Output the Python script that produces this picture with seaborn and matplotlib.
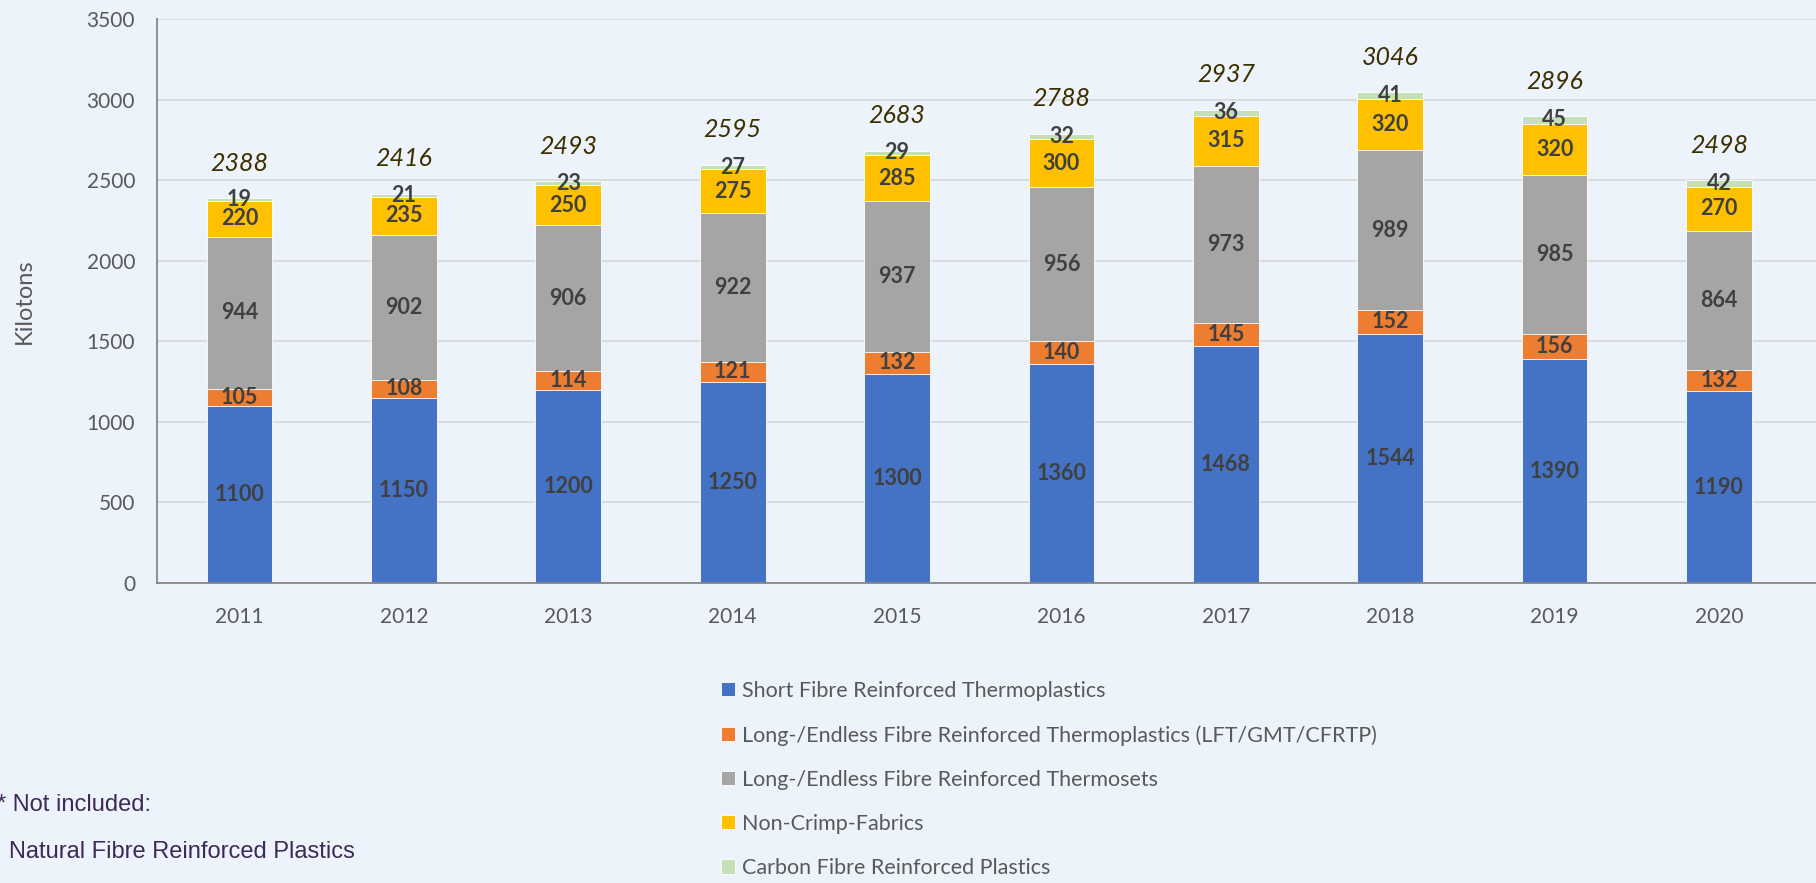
import numpy as np
import pandas as pd
import matplotlib
matplotlib.use("Agg")
import matplotlib.pyplot as plt
import seaborn as sns

years = ['2011', '2012', '2013', '2014', '2015', '2016', '2017', '2018', '2019', '2020']
short_fibre = [1100, 1150, 1200, 1250, 1300, 1360, 1468, 1544, 1390, 1190]
long_thermoplastics = [105, 108, 114, 121, 132, 140, 145, 152, 156, 132]
long_thermosets = [944, 902, 906, 922, 937, 956, 973, 989, 985, 864]
non_crimp = [220, 235, 250, 275, 285, 300, 315, 320, 320, 270]
carbon_fibre = [19, 21, 23, 27, 29, 32, 36, 41, 45, 42]
totals = [2388, 2416, 2493, 2595, 2683, 2788, 2937, 3046, 2896, 2498]

series_names = ['Short Fibre Reinforced Thermoplastics',
                'Long-/Endless Fibre Reinforced Thermoplastics (LFT/GMT/CFRTP)',
                'Long-/Endless Fibre Reinforced Thermosets',
                'Non-Crimp-Fabrics',
                'Carbon Fibre Reinforced Plastics']
colors = ['#4472C4', '#ED7D31', '#A5A5A5', '#FFC000', '#C5E0B4']

df = pd.DataFrame({'year': years,
                   series_names[0]: short_fibre,
                   series_names[1]: long_thermoplastics,
                   series_names[2]: long_thermosets,
                   series_names[3]: non_crimp,
                   series_names[4]: carbon_fibre})

bg = '#EDF3FB'
sns.set_style("whitegrid")
plt.rcParams['font.family'] = ['Lato', 'DejaVu Sans']

fig = plt.figure(figsize=(18.16, 8.83), dpi=100, facecolor=bg)
ax = fig.add_axes([157.3 / 1816, 1 - 583 / 883, 1 - 157.3 / 1816, (583 - 19) / 883])
ax.set_facecolor(bg)

# stacked bars: draw cumulative heights from the top layer down
cum = df[series_names].cumsum(axis=1)
for name, col in reversed(list(zip(series_names, colors))):
    sns.barplot(x=df['year'], y=cum[name], color=col, width=0.4, ax=ax,
                edgecolor='white', linewidth=0.6, label=name, saturation=1)

# segment labels + totals
for i in range(len(years)):
    bottom = 0
    for name in series_names:
        v = df[name][i]
        ax.text(i, bottom + v / 2, str(v), ha='center', va='center',
                fontsize=15.5, fontweight='bold', color='#404040')
        bottom += v
    ax.annotate(str(totals[i]), (i, totals[i]), xytext=(0, 35),
                textcoords='offset pixels', ha='center', va='center',
                fontsize=18, style='italic', color='#3D3000')

ax.set_ylim(0, 3500)
ax.set_yticks(range(0, 3501, 500))
ax.set_xlim(-0.5, 9.59)
ax.grid(axis='y', color='#D9D9D9', linewidth=1.3)
ax.grid(axis='x', visible=False)
ax.set_axisbelow(True)
for s in ['top', 'right']:
    ax.spines[s].set_visible(False)
for s in ['left', 'bottom']:
    ax.spines[s].set_color('#868686')
    ax.spines[s].set_linewidth(1.3)
ax.tick_params(axis='both', length=0, labelsize=15, labelcolor='#595959')
ax.tick_params(axis='x', pad=17)
ax.tick_params(axis='y', pad=16)
ax.set_xlabel('')
ax.set_ylabel('Kilotons', fontsize=17, color='#595959')
ax.yaxis.set_label_coords(-(157.3 - 35) / (1816 - 157.3), 0.5)

if ax.legend_:
    ax.legend_.remove()
handles, labels = ax.get_legend_handles_labels()
order = [labels.index(n) for n in series_names]
fig.legend([handles[k] for k in order], [labels[k] for k in order],
           loc='upper left', bbox_to_anchor=(721 / 1816, 1 - 681 / 883),
           frameon=False, fontsize=15.5, labelspacing=1.12, handlelength=0.63,
           handleheight=0.63, handletextpad=0.36, borderpad=0, borderaxespad=0,
           labelcolor='#595959')

fig.text(-3 / 1816, 1 - 805 / 883, '* Not included:', fontsize=17,
         family='Liberation Sans', color='#3D2B56', va='center')
fig.text(9 / 1816, 1 - 852 / 883, 'Natural Fibre Reinforced Plastics', fontsize=17,
         family='Liberation Sans', color='#3D2B56', va='center')

fig.savefig('out.png', dpi=100, facecolor=bg)
